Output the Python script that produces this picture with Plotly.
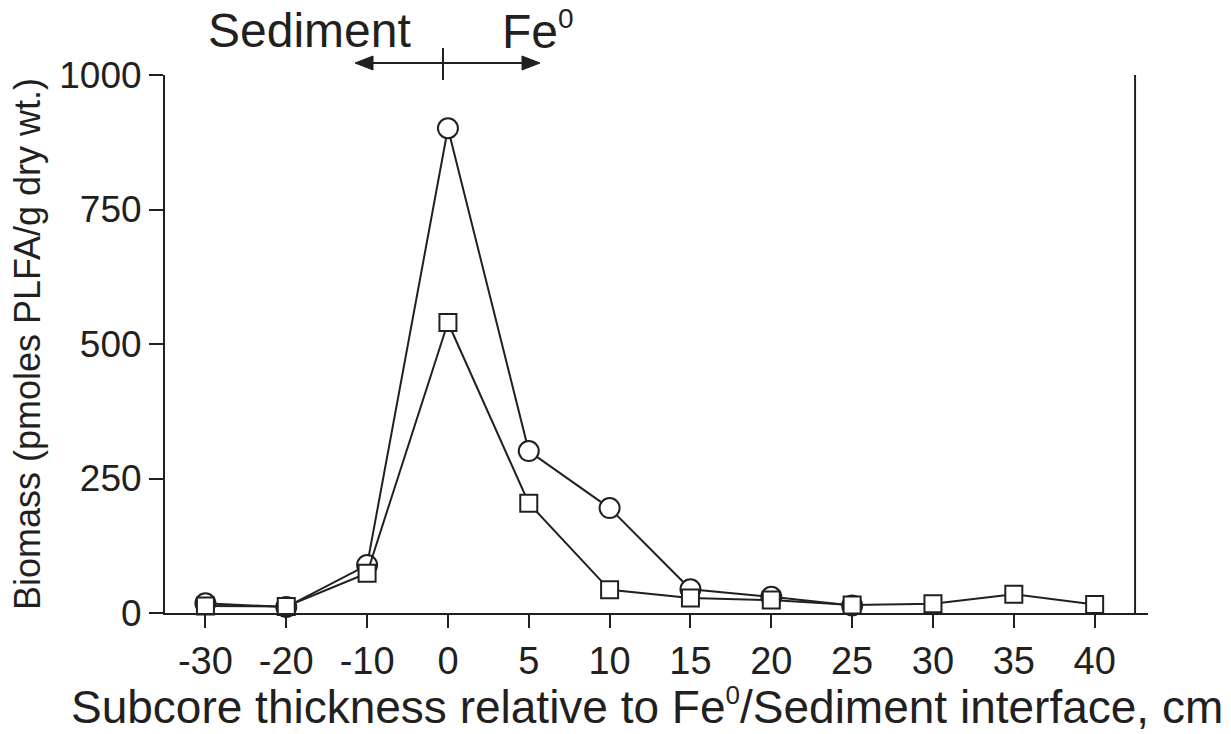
import plotly.graph_objects as go

categories = ["-30", "-20", "-10", "0", "5", "10", "15", "20", "25", "30", "35", "40"]
circle_values = [18, 11, 89, 901, 301, 195, 44, 30, 14]
square_values = [13, 12, 74, 540, 204, 43, 28, 24, 15, 17, 35, 16]
y_ticks = [0, 250, 500, 750, 1000]

INK = "#231f20"
FONT = "Liberation Sans, Arial, Helvetica, sans-serif"

W, H = 1231, 734
L, R, T, B = 165, 83, 75, 121
pw, ph = W - L - R, H - T - B

def px(x):
    return (x - L) / pw

def py(y):
    return (H - B - y) / ph

xi = list(range(len(categories)))

fig = go.Figure()
fig.add_trace(go.Scatter(
    x=xi[:len(circle_values)], y=circle_values, mode="lines+markers",
    line=dict(color=INK, width=2),
    marker=dict(symbol="circle", size=20, color="white", line=dict(color=INK, width=2)),
    cliponaxis=False, showlegend=False))
fig.add_trace(go.Scatter(
    x=xi, y=square_values, mode="lines+markers",
    line=dict(color=INK, width=2),
    marker=dict(symbol="square", size=17, color="white", line=dict(color=INK, width=2)),
    cliponaxis=False, showlegend=False))

fig.update_layout(
    width=W, height=H,
    margin=dict(l=L, r=R, t=T, b=B),
    paper_bgcolor="white", plot_bgcolor="white",
    font=dict(family=FONT, color=INK),
    xaxis=dict(
        range=[-0.5, 11.66], tickmode="array", tickvals=xi, ticktext=categories,
        showgrid=False, zeroline=False, showline=True, linecolor=INK, linewidth=2,
        ticks="outside", ticklen=13, tickwidth=2, tickcolor=INK,
        tickfont=dict(size=38, color=INK),
    ),
    yaxis=dict(
        range=[0, 1000], tickmode="array", tickvals=y_ticks,
        showgrid=False, zeroline=False, showline=True, linecolor=INK, linewidth=2,
        ticks="outside", ticklen=14, tickwidth=2, tickcolor=INK,
        tickfont=dict(size=37, color=INK),
        title=dict(text="Biomass (pmoles PLFA/g dry wt.)", font=dict(size=36, color=INK), standoff=8),
    ),
)

# x-axis title
fig.add_annotation(xref="paper", yref="paper", x=px(647), y=py(706),
                   text='Subcore thickness relative to Fe<sup><span style="font-size:26px">0</span></sup>/Sediment interface, cm',
                   showarrow=False, xanchor="center", yanchor="middle",
                   font=dict(size=46, color=INK, family=FONT))

# right vertical boundary line
fig.add_shape(type="line", xref="x", yref="y", x0=11.5, x1=11.5, y0=0, y1=1000,
              line=dict(color=INK, width=2))

# top direction indicator
cx, cy = 443, 63
left_tip, right_tip = 355, 540
head_len, head_half = 18, 7
fig.add_shape(type="line", xref="paper", yref="paper", x0=px(cx), x1=px(cx), y0=py(48), y1=py(80),
              line=dict(color=INK, width=2))
fig.add_shape(type="line", xref="paper", yref="paper", x0=px(left_tip + 5), x1=px(right_tip - 5),
              y0=py(cy), y1=py(cy), line=dict(color=INK, width=2))
fig.add_shape(type="path", xref="paper", yref="paper",
              path=f"M {px(left_tip)},{py(cy)} L {px(left_tip + head_len)},{py(cy - head_half)} "
                   f"L {px(left_tip + head_len)},{py(cy + head_half)} Z",
              fillcolor=INK, line=dict(color=INK, width=1))
fig.add_shape(type="path", xref="paper", yref="paper",
              path=f"M {px(right_tip)},{py(cy)} L {px(right_tip - head_len)},{py(cy - head_half)} "
                   f"L {px(right_tip - head_len)},{py(cy + head_half)} Z",
              fillcolor=INK, line=dict(color=INK, width=1))
fig.add_annotation(xref="paper", yref="paper", x=px(309), y=py(30), text="Sediment",
                   showarrow=False, xanchor="center", yanchor="middle",
                   font=dict(size=48, color=INK, family=FONT))
fig.add_annotation(xref="paper", yref="paper", x=px(500), y=py(30),
                   text='Fe<sup><span style="font-size:28px">0</span></sup>',
                   showarrow=False, xanchor="left", yanchor="middle",
                   font=dict(size=48, color=INK, family=FONT))

fig.write_html("out.html")
